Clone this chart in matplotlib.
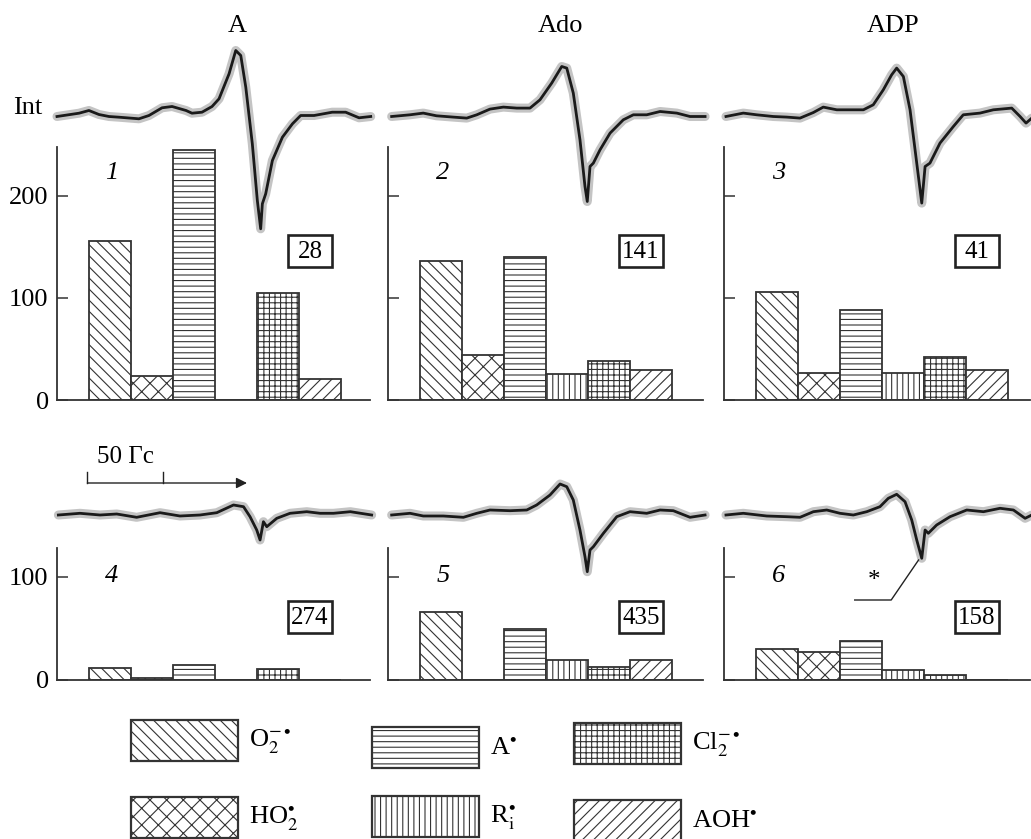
import matplotlib
matplotlib.use('Agg')
import matplotlib.pyplot as plt
from matplotlib.patches import Rectangle

plt.rcParams['font.family'] = ['Liberation Serif', 'DejaVu Serif']
plt.rcParams['mathtext.fontset'] = 'stix'
plt.rcParams['hatch.linewidth'] = 0.8
plt.rcParams['hatch.color'] = '#3a3a3a'

# радикалы (порядок столбцов)
radicals = [r'O$_2^{-\bullet}$', r'HO$_2^{\bullet}$', r'A$^{\bullet}$',
            r'R$_{\rm i}^{\bullet}$', r'Cl$_2^{-\bullet}$', r'AOH$^{\bullet}$']
hatches = ['\\\\\\', 'xx', '---', '|||', '+++', '///']

titles = ['A', 'Ado', 'ADP']
panel_nums = ['1', '2', '3', '4', '5', '6']
box_vals = ['28', '141', '41', '274', '435', '158']

# высоты столбцов, панели 1-6
bars1 = [156, 24, 245, 0, 105, 21]
bars2 = [136, 44, 140, 25, 38, 29]
bars3 = [106, 26, 88, 26, 42, 29]
bars4 = [12, 2, 15, 0, 11, 0]
bars5 = [66, 0, 49, 19, 13, 19]
bars6 = [30, 27, 38, 10, 5, 0]

# спектры ЭПР: поле (Гс) и интенсивность (отн. ед.)
spec1_field = [0, 14.5, 21, 27.6, 34.2, 40.8, 53.9, 60.5, 69.1, 75.7, 84.9, 88.8, 95.4, 102, 106.6,
               113.2, 117.6, 120.9, 124.2, 128.5, 131.8, 134, 135.1, 137.3, 141.7, 148.3, 154.9,
               160.3, 169.1, 181.1, 189.9, 198.7, 206.4]
spec1_int = [0, 3.3, 6, 2, 0, -0.7, -2.3, 1, 8.7, 10, 6, 3.3, 4.3, 10, 17.7, 42.7, 66, 61, 29.3,
             -27.3, -84, -112.3, -87.3, -77.3, -44, -20.7, -7.3, 1, 1, 4.3, 4.3, -1.3, 0]
spec2_field = [2.4, 14.5, 23.2, 31.9, 42.9, 51.8, 58.4, 67.1, 75.9, 84.7, 93.4, 100, 107.7, 114.3,
               117.6, 121.9, 126.3, 129.6, 131.1, 132.9, 135.1, 139.5, 146.1, 154.8, 161.4, 170.2,
               179, 190, 198.7, 208.6]
spec2_int = [0, 1.7, 3.4, 0.7, -0.6, -1.6, 1.7, 7.4, 9.4, 8.4, 8.4, 16.7, 33.4, 50, 48.4, 23.4,
             -23.3, -70, -85, -50, -46.6, -33.3, -16.6, -3.3, 1.7, 1.7, 5, 3.4, 0, 0]
spec3_field = [1.3, 12.7, 21.5, 32.4, 41.3, 50, 58.8, 65.3, 74.2, 82.9, 91.7, 98.2, 104.8, 110.3,
               113.6, 118, 122.4, 125.7, 130.1, 132.3, 135.5, 142.1, 150.9, 157.4, 168.4, 177.2,
               189.3, 194.8, 198.7, 202.5]
spec3_int = [0, 3.4, 1.7, 0, -0.6, -1.6, 4, 9.4, 6.7, 6.7, 6.7, 11.7, 26.7, 41.7, 48.4, 40, 6.7,
             -33.3, -86.6, -50, -46.6, -26.6, -10, 1.7, 3.4, 6.7, 8.4, 0, -6.6, -1.6]
spec4_field = [0.9, 15.1, 28.3, 39.3, 52.4, 67.8, 80.9, 94.1, 105.1, 116.1, 122.7, 127, 131.4,
               133.6, 135.8, 138, 144.6, 153.3, 164.3, 173.1, 181.9, 193, 207]
spec4_int = [0, 1.7, 0, 1, -2.3, 2.3, -1, 0, 2.3, 10, 8.3, -1.7, -15, -25, -6.7, -11.7, -3.3,
             1.7, 3.3, 1.7, 1.7, 3.3, 0]
spec5_field = [2.4, 14.5, 23.2, 36.4, 49.6, 58.4, 67.1, 80.3, 91.3, 97.8, 106.6, 113.2, 117.6,
               121.9, 126.3, 129.6, 131.1, 132.9, 135.1, 141.7, 150.5, 159.2, 170.2, 179, 187.7,
               198.7, 208.6]
spec5_int = [0, 1.7, -1, -1, -2.3, 1.7, 5, 4.3, 5, 10, 20, 31, 28.3, 15, -15, -41.7, -56.7, -35,
             -31.7, -18.3, -1.7, 3.3, 1.7, 5, 4.3, -2.3, 0]
spec6_field = [1.3, 12.7, 28.1, 41.3, 50, 58.8, 67.6, 76.3, 85.1, 93.9, 102.6, 108.1, 113.6, 119.1,
               123.5, 126.8, 130.1, 132.3, 134.4, 139.9, 148.7, 159.7, 170.7, 181.6, 190.4, 198.1,
               202.5]
spec6_int = [0, 1.7, -1, -1.7, -2.3, 3.3, 5, 1.7, 0, 3.3, 8.3, 16.7, 20.7, 13.3, -5, -25, -43.3,
             -15, -18.3, -10, -1.7, 5, 3.3, 6.7, 5, -3.3, 0]

bars = [bars1, bars2, bars3, bars4, bars5, bars6]
specs = [(spec1_field, spec1_int), (spec2_field, spec2_int), (spec3_field, spec3_int),
         (spec4_field, spec4_int), (spec5_field, spec5_int), (spec6_field, spec6_int)]

W, H = 1031, 839
fig = plt.figure(figsize=(W / 100, H / 100), dpi=100)


def px_axes(x0, y0, x1, y1):
    return fig.add_axes([x0 / W, 1 - y1 / H, (x1 - x0) / W, (y1 - y0) / H])


cols = [(57, 370), (388, 703), (724, 1030)]
title_x = [237, 560, 893]
rows = [dict(top=147, bot=400, ymax=248, ticks=[0, 100, 200], spec=(0, 250), base=116.5,
             box_y=251, num_y=173),
        dict(top=548, bot=680, ymax=128, ticks=[0, 100], spec=(430, 610), base=515,
             box_y=617, num_y=576)]
slot = 42.0
edge = '#333333'
spec_axes = []

for r, row in enumerate(rows):
    for c, (x0, x1) in enumerate(cols):
        i = r * 3 + c
        ax = px_axes(x0, row['top'], x1, row['bot'])
        left = -0.5 - 32 / slot
        ax.set_xlim(left, left + (x1 - x0) / slot)
        ax.set_ylim(0, row['ymax'])
        ax.bar(range(6), bars[i], width=1.0, color='white', edgecolor=edge, linewidth=1.3,
               hatch=hatches)
        for s in ['top', 'right']:
            ax.spines[s].set_visible(False)
        for s in ['left', 'bottom']:
            ax.spines[s].set_color('#333333')
            ax.spines[s].set_linewidth(1.3)
        ax.set_xticks([])
        ax.set_yticks(row['ticks'])
        ax.tick_params(axis='y', direction='in', length=8, width=1.1, color='#333333',
                       labelsize=19, pad=6, labelleft=(c == 0))
        ax.set_facecolor('none')

        fig.text((x0 + 55) / W, 1 - row['num_y'] / H, panel_nums[i], fontsize=19,
                 style='italic', ha='center', va='center')
        bx, by = x0 + 253, row['box_y']
        fig.add_artist(Rectangle(((bx - 22) / W, 1 - (by + 16) / H), 44 / W, 32 / H,
                                 transform=fig.transFigure, facecolor='white',
                                 edgecolor='#222222', linewidth=1.9, zorder=5))
        fig.text(bx / W, 1 - (by + 1) / H, box_vals[i], fontsize=18, ha='center',
                 va='center', zorder=6)

        # спектр поверх гистограммы
        sy0, sy1 = row['spec']
        sax = px_axes(x0, sy0, x1, sy1)
        sax.set_xlim(0, (x1 - x0) * 50 / 76)
        sax.set_ylim(row['base'] - sy1, row['base'] - sy0)
        sax.axis('off')
        fld, inten = specs[i]
        sax.plot(fld, inten, color='#c4c4c4', lw=6.5, solid_joinstyle='round',
                 solid_capstyle='round', clip_on=False)
        sax.plot(fld, inten, color='#1a1a1a', lw=2.0, solid_joinstyle='round', clip_on=False)
        spec_axes.append(sax)

for c in range(3):
    fig.text(title_x[c] / W, 1 - 26 / H, titles[c], fontsize=19, ha='center', va='center')

fig.text(28 / W, 1 - 108 / H, 'Int', fontsize=19, ha='center', va='center')

# масштаб 50 Гс (панель 4)
s4 = spec_axes[3]
s4.plot([20, 20], [32, 43], color='#222222', lw=1, clip_on=False)
s4.plot([70, 70], [32, 43], color='#222222', lw=1, clip_on=False)
s4.annotate('', xy=(125, 32), xytext=(20, 32),
            arrowprops=dict(arrowstyle='-|>', color='#222222', lw=1, mutation_scale=16,
                            shrinkA=0, shrinkB=0), annotation_clip=False)
s4.text(26, 58, '50 Гс', fontsize=18, ha='left', va='center')

# метка * (панель 6)
s6 = spec_axes[5]
s6.plot([86, 110, 128], [-85, -85, -45], color='#222222', lw=1, clip_on=False)
s6.text(99, -66, '*', fontsize=18, ha='center', va='center')

# легенда
lax = fig.add_axes([0, 0, 1, 150 / H])
lax.set_xlim(0, W)
lax.set_ylim(H, H - 150)
lax.axis('off')
leg_boxes = [(131, 720), (131, 797), (372, 727), (372, 796), (574, 723), (574, 800)]
for k, (bx, by) in enumerate(leg_boxes):
    lax.add_patch(Rectangle((bx, by), 107, 41, facecolor='white', edgecolor=edge,
                            linewidth=1.6, hatch=hatches[k]))
    lax.text(bx + 118, by + 22, radicals[k], fontsize=19, ha='left', va='center')

fig.savefig('out.png', dpi=100)
